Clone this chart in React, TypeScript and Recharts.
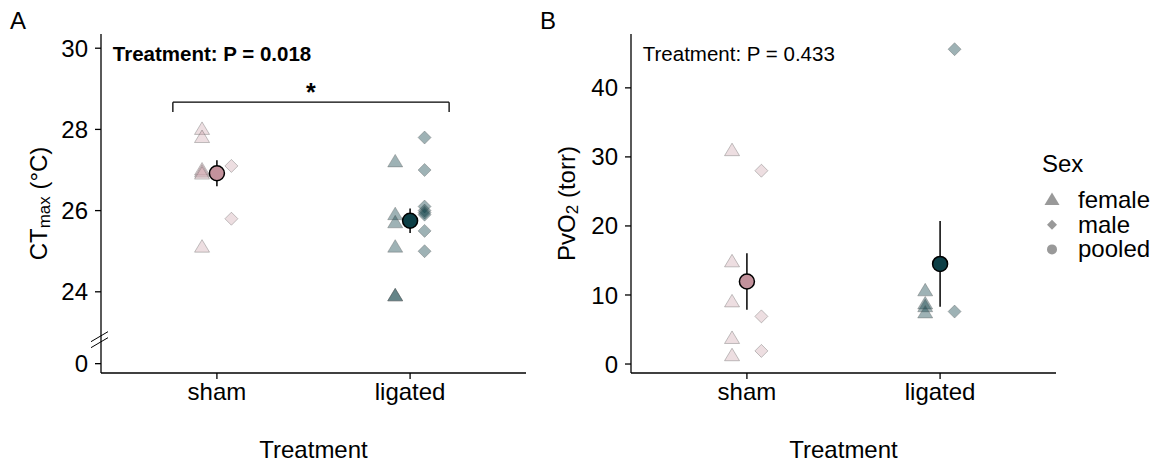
import React from "react";
import { ScatterChart, Scatter, XAxis, YAxis, ErrorBar, ReferenceLine, ReferenceDot } from "recharts";

const treatments = ["sham", "ligated"];
const legendItems = ["female", "male", "pooled"];

// A: CTmax (°C)
const ctShamFemale = [28.0, 27.8, 27.0, 26.95, 26.9, 25.1];
const ctShamMale = [27.1, 25.8];
const ctLigFemale = [27.2, 25.9, 25.7, 25.1, 23.9, 23.9];
const ctLigMale = [27.8, 27.0, 26.1, 26.0, 25.95, 25.9, 25.5, 25.0];
const ctMean = [26.92, 25.75];
const ctSe = [0.32, 0.3];
const ctTicks = [24, 26, 28, 30];
const ctZero = 22.23; // where "0" sits below the axis break

// B: PvO2 (torr)
const pvShamFemale = [30.9, 14.8, 9.0, 3.7, 1.2];
const pvShamMale = [28.0, 6.9, 1.9];
const pvLigFemale = [10.6, 8.7, 8.3, 7.4];
const pvLigMale = [45.6, 7.6];
const pvMean = [11.95, 14.5];
const pvSe = [4.1, 6.2];
const pvTicks = [0, 10, 20, 30, 40];

const groupColors = ["#c3929c", "#0d3f46"];
const pointAlpha = [0.3, 0.4];
const FONT = "'Liberation Sans', Arial, sans-serif";
const FS = 24;

const pts = (vals: number[], g: number, off: number) => vals.map((v) => ({ x: g + 1 + off, y: v }));
const means = (m: number[], se: number[]) => m.map((v, i) => ({ x: i + 1, y: v, err: se[i] }));

const tri = (fill: string, op: number) => (p: any) => {
  const { cx, cy } = p;
  return (
    <polygon
      points={`${cx},${cy - 7.5} ${cx + 7.5},${cy + 5} ${cx - 7.5},${cy + 5}`}
      fill={fill}
      fillOpacity={op}
      stroke="#555"
      strokeOpacity={0.35}
    />
  );
};
const dia = (fill: string, op: number) => (p: any) => {
  const { cx, cy } = p;
  const s = 6.5;
  return (
    <polygon
      points={`${cx},${cy - s} ${cx + s},${cy} ${cx},${cy + s} ${cx - s},${cy}`}
      fill={fill}
      fillOpacity={op}
      stroke="#555"
      strokeOpacity={0.35}
    />
  );
};
const meanDot = (p: any) => {
  const fill = groupColors[p.payload.x - 1];
  return <circle cx={p.cx} cy={p.cy} r={7.5} fill={fill} stroke="#000" strokeWidth={1.5} />;
};
const noShape = () => <g />;

const CtTick = (props: any) => {
  const { x, y, payload } = props;
  const isZero = payload.value === ctZero;
  const ax = x + 13;
  return (
    <g>
      <text x={x} y={y} dy="0.36em" textAnchor="end" fontSize={FS} fontFamily={FONT} fill="#000">
        {isZero ? "0" : payload.value}
      </text>
      {isZero && (
        <g stroke="#000" strokeWidth={1}>
          <line x1={ax - 10} y1={y - 22} x2={ax + 7} y2={y - 32} />
          <line x1={ax - 10} y1={y - 16} x2={ax + 7} y2={y - 26} />
        </g>
      )}
    </g>
  );
};

const yTitle = (cxOff: number, main: string, sub: string, rest: string) => (p: any) => {
  const vb = p.viewBox;
  const cx = vb.x + cxOff;
  const cy = vb.y + vb.height / 2;
  return (
    <text
      x={cx}
      y={cy}
      transform={`rotate(-90 ${cx} ${cy})`}
      textAnchor="middle"
      dominantBaseline="central"
      fontSize={FS}
      fontFamily={FONT}
      fill="#000"
    >
      {main}
      <tspan fontSize={17} dy={6}>{sub}</tspan>
      <tspan dy={-6}>{rest}</tspan>
    </text>
  );
};

const xAxisProps: any = {
  type: "number",
  dataKey: "x",
  domain: [0.4, 2.6],
  ticks: [1, 2],
  interval: 0,
  allowDataOverflow: true,
  height: 91,
  tickSize: 6,
  tickMargin: 4,
  tickFormatter: (v: number) => treatments[v - 1],
  tick: { fontSize: FS, fontFamily: FONT, fill: "#000" },
  axisLine: { stroke: "#000", strokeWidth: 1.3 },
  tickLine: { stroke: "#000", strokeWidth: 1.3 },
  label: {
    content: (p: any) => (
      <text x={p.viewBox.x + p.viewBox.width / 2} y={p.viewBox.y + 85} textAnchor="middle" fontSize={FS} fontFamily={FONT} fill="#000">
        Treatment
      </text>
    ),
  },
};

const Panel = (props: any) => {
  const { fem, mal, mean, se, yAxis, children } = props;
  return (
    <ScatterChart width={props.width} height={464} margin={{ top: 34, right: props.right, left: 0, bottom: 0 }}>
      <XAxis {...xAxisProps} />
      {yAxis}
      {children}
      <Scatter data={pts(fem[0], 0, -0.077)} shape={tri(groupColors[0], pointAlpha[0])} isAnimationActive={false} />
      <Scatter data={pts(mal[0], 0, 0.075)} shape={dia(groupColors[0], pointAlpha[0])} isAnimationActive={false} />
      <Scatter data={pts(fem[1], 1, -0.077)} shape={tri(groupColors[1], pointAlpha[1])} isAnimationActive={false} />
      <Scatter data={pts(mal[1], 1, 0.075)} shape={dia(groupColors[1], pointAlpha[1])} isAnimationActive={false} />
      <Scatter data={means(mean, se)} shape={noShape} isAnimationActive={false}>
        <ErrorBar dataKey="err" direction="y" width={0} stroke="#000" strokeWidth={1.5} isAnimationActive={false} />
      </Scatter>
      <Scatter data={means(mean, se)} shape={meanDot} isAnimationActive={false} />
    </ScatterChart>
  );
};

const annot = (txt: string, bold: boolean) => (p: any) => (
  <text x={p.cx} y={p.cy} fontSize={20.5} fontWeight={bold ? "bold" : "normal"} fontFamily={FONT} fill="#000">
    {txt}
  </text>
);
const star = (p: any) => (
  <text x={p.cx} y={p.cy - 1} textAnchor="middle" fontSize={25} fontWeight="bold" fontFamily={FONT} fill="#000">
    *
  </text>
);

const bracketX = [0.772, 2.202];
const bracketY = [28.67, 28.43];

export default function App() {
  const ctYAxis = (
    <YAxis
      type="number"
      dataKey="y"
      domain={[22.0, 30.35]}
      ticks={[ctZero, ...ctTicks]}
      interval={0}
      allowDataOverflow
      width={101}
      tickSize={6}
      tickMargin={7}
      tick={<CtTick />}
      axisLine={{ stroke: "#000", strokeWidth: 1.3 }}
      tickLine={{ stroke: "#000", strokeWidth: 1.3 }}
      label={{ content: yTitle(38, "CT", "max", " (°C)") }}
    />
  );
  const pvYAxis = (
    <YAxis
      type="number"
      dataKey="y"
      domain={[-1.3, 47.8]}
      ticks={pvTicks}
      interval={0}
      allowDataOverflow
      width={101}
      tickSize={6}
      tickMargin={7}
      tick={{ fontSize: FS, fontFamily: FONT, fill: "#000" }}
      axisLine={{ stroke: "#000", strokeWidth: 1.3 }}
      tickLine={{ stroke: "#000", strokeWidth: 1.3 }}
      label={{ content: yTitle(36, "PvO", "2", " (torr)") }}
    />
  );
  return (
    <div style={{ position: "absolute", left: 0, top: 0, width: 1159, height: 464, background: "#fff", fontFamily: FONT }}>
      <div style={{ position: "absolute", left: 10, top: 7, fontSize: 24 }}>A</div>
      <div style={{ position: "absolute", left: 540, top: 7, fontSize: 24 }}>B</div>
      <div style={{ position: "absolute", left: 0, top: 0 }}>
        <Panel width={530} right={4} fem={[ctShamFemale, ctLigFemale]} mal={[ctShamMale, ctLigMale]} mean={ctMean} se={ctSe} yAxis={ctYAxis}>
          <ReferenceLine segment={[{ x: bracketX[0], y: bracketY[0] }, { x: bracketX[1], y: bracketY[0] }]} stroke="#000" strokeWidth={1.3} />
          <ReferenceLine segment={[{ x: bracketX[0], y: bracketY[0] }, { x: bracketX[0], y: bracketY[1] }]} stroke="#000" strokeWidth={1.3} />
          <ReferenceLine segment={[{ x: bracketX[1], y: bracketY[0] }, { x: bracketX[1], y: bracketY[1] }]} stroke="#000" strokeWidth={1.3} />
          <ReferenceDot x={(bracketX[0] + bracketX[1]) / 2} y={bracketY[0]} r={0} shape={star} />
          <ReferenceDot x={0.461} y={29.68} r={0} shape={annot("Treatment: P = 0.018", true)} />
        </Panel>
      </div>
      <div style={{ position: "absolute", left: 530, top: 0 }}>
        <Panel width={629} right={103} fem={[pvShamFemale, pvLigFemale]} mal={[pvShamMale, pvLigMale]} mean={pvMean} se={pvSe} yAxis={pvYAxis}>
          <ReferenceDot x={0.461} y={43.9} r={0} shape={annot("Treatment: P = 0.433", false)} />
        </Panel>
      </div>
      <svg style={{ position: "absolute", left: 1030, top: 140 }} width={129} height={130}>
        <text x={12} y={32} fontSize={FS} fontFamily={FONT} fill="#000">Sex</text>
        {legendItems.map((name, i) => {
          const cy = 60 + i * 24.7;
          const cx = 22;
          return (
            <g key={name}>
              {i === 0 && <polygon points={`${cx},${cy - 7.5} ${cx + 7.5},${cy + 5} ${cx - 7.5},${cy + 5}`} fill="#999" />}
              {i === 1 && <polygon points={`${cx},${cy - 5} ${cx + 5},${cy} ${cx},${cy + 5} ${cx - 5},${cy}`} fill="#999" />}
              {i === 2 && <circle cx={cx} cy={cy} r={5} fill="#999" />}
              <text x={48} y={cy + 8} fontSize={FS} fontFamily={FONT} fill="#000">{name}</text>
            </g>
          );
        })}
      </svg>
    </div>
  );
}
